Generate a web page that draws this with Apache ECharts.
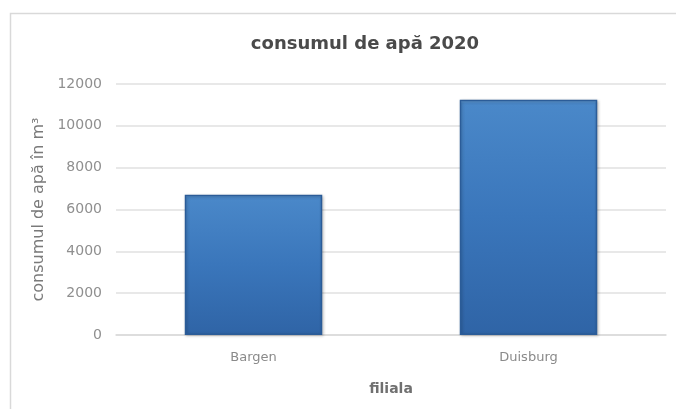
<!DOCTYPE html>
<html>
<head>
<meta charset="utf-8">
<script src="https://cdn.jsdelivr.net/npm/echarts@6/dist/echarts.min.js"></script>
<style>
  html, body { margin: 0; padding: 0; background: #ffffff; }
  #chart { width: 676px; height: 409px; }
</style>
</head>
<body>
<div id="chart"></div>
<script>
// Water consumption per branch, 2020
const categories = ['Bargen', 'Duisburg'];
const consumption = [6700, 11250];
const yTicks = [0, 2000, 4000, 6000, 8000, 10000, 12000];

const chart = echarts.init(document.getElementById('chart'), null, { renderer: 'canvas' });

// Vertical gradient with a thin light band at the top for a bevelled look
const barFill = new echarts.graphic.LinearGradient(0, 0, 0, 1, [
  { offset: 0, color: '#6fa6dc' },
  { offset: 0.015, color: '#4a88c9' },
  { offset: 0.5, color: '#3a76bb' },
  { offset: 1, color: '#2f64a6' }
]);

chart.setOption({
  animation: false,
  backgroundColor: '#ffffff',
  graphic: [{
    type: 'rect',
    left: 8, top: 11,
    shape: { width: 700, height: 420 },
    style: { fill: 'none', stroke: '#d9d9d9', lineWidth: 1.5 },
    silent: true
  }],
  title: {
    text: 'consumul de apă 2020',
    left: 360, top: 30,
    textAlign: 'center',
    textStyle: { fontFamily: 'DejaVu Sans', fontWeight: 'bold', fontSize: 18, color: '#4a4a4a' }
  },
  grid: { left: 116, right: 10, top: 84, bottom: 74 },
  xAxis: {
    type: 'category',
    data: categories,
    name: 'filiala',
    nameLocation: 'middle',
    nameGap: 47,
    nameTextStyle: { fontFamily: 'DejaVu Sans', fontWeight: 'bold', fontSize: 14, color: '#707070' },
    axisLine: { lineStyle: { color: '#d9d9d9', width: 1.5 } },
    axisTick: { show: false },
    axisLabel: { fontFamily: 'DejaVu Sans', fontSize: 13, color: '#8a8a8a', margin: 16 }
  },
  yAxis: {
    type: 'value',
    min: yTicks[0],
    max: yTicks[yTicks.length - 1],
    interval: 2000,
    name: 'consumul de apă în m³',
    nameLocation: 'middle',
    nameGap: 63,
    nameTextStyle: { fontFamily: 'DejaVu Sans', fontSize: 16, color: '#7a7a7a' },
    axisLine: { show: false },
    axisTick: { show: false },
    axisLabel: {
      fontFamily: 'DejaVu Sans', fontSize: 14, color: '#8f8f8f', margin: 14,
      formatter: (v) => String(v)
    },
    splitLine: { lineStyle: { color: '#e0e0e0', width: 1.5 } }
  },
  series: [{
    type: 'bar',
    data: consumption,
    barWidth: '50%',
    itemStyle: {
      color: barFill,
      borderColor: '#2b5c98',
      borderWidth: 1.5,
      shadowColor: 'rgba(0,0,0,0.25)',
      shadowBlur: 3,
      shadowOffsetX: 1,
      shadowOffsetY: 1
    }
  }]
});
</script>
</body>
</html>
